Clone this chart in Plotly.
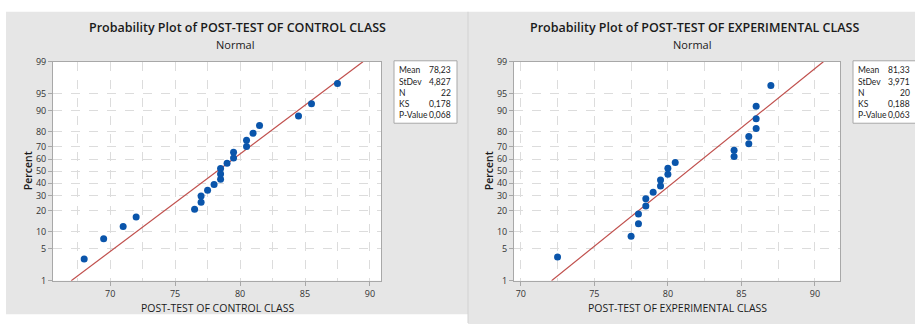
import plotly.graph_objects as go
from statistics import NormalDist

nd = NormalDist()

# ---------------- data ----------------
control_scores = [68, 69.5, 71, 72, 76.5, 77, 77, 77.5, 78, 78.5, 78.5, 78.5,
                  79, 79.5, 79.5, 80.5, 80.5, 81, 81.5, 84.5, 85.5, 87.5]
experimental_scores = [72.5, 77.5, 78, 78, 78.5, 78.5, 79, 79.5, 79.5, 80, 80,
                       80.5, 84.5, 84.5, 85.5, 85.5, 86, 86, 86, 87]

control_mean, control_sd = 78.23, 4.827
experimental_mean, experimental_sd = 81.33, 3.971

stat_labels = ["Mean", "StDev", "N", "KS", "P-Value"]
control_stat_values = ["78,23", "4,827", "22", "0,178", "0,068"]
experimental_stat_values = ["81,33", "3,971", "20", "0,188", "0,063"]

percent_ticks = [1, 5, 10, 20, 30, 40, 50, 60, 70, 80, 90, 95, 99]
x_ticks = [70, 75, 80, 85, 90]

titles = ["Probability Plot of POST-TEST OF CONTROL CLASS",
          "Probability Plot of POST-TEST OF EXPERIMENTAL CLASS"]
x_titles = ["POST-TEST OF CONTROL CLASS", "POST-TEST OF EXPERIMENTAL CLASS"]

# ---------------- layout helpers ----------------
W, H = 915, 329
def px(x):
    return x / W
def py(y):
    return 1 - y / H

FONT = "Open Sans"
BOX_FONT = "Lato"
PT_COLOR = "#0a55ab"
LINE_COLOR = "#c0504d"
GRID = "#dcdcdc"
PANEL = "#e6e6e6"

z_lo, z_hi = nd.inv_cdf(0.01), nd.inv_cdf(0.99)
tick_z = [nd.inv_cdf(p / 100) for p in percent_ticks]

def positions(vals):
    s = sorted(vals)
    n = len(s)
    return s, [nd.inv_cdf((i + 1 - 0.3) / (n + 0.4)) for i in range(n)]

fig = go.Figure()

panels = [
    dict(scores=control_scores, mean=control_mean, sd=control_sd,
         vals=control_stat_values, dom=(53, 381), xr=(65.6, 90.85),
         box=(394, 457), panel=(6, 468, 5, 320), center=237),
    dict(scores=experimental_scores, mean=experimental_mean, sd=experimental_sd,
         vals=experimental_stat_values, dom=(514, 840), xr=(69.54, 91.7),
         box=(853, 918), panel=(468, 916, 5, 330), center=694),
]

shapes = []
annotations = []
for k, p in enumerate(panels):
    xa = "x" if k == 0 else "x2"
    ya = "y" if k == 0 else "y2"
    s, z = positions(p["scores"])
    fig.add_trace(go.Scatter(
        x=[p["mean"] + z_lo * p["sd"], p["mean"] + z_hi * p["sd"]], y=[z_lo, z_hi],
        mode="lines", line=dict(color=LINE_COLOR, width=1.2),
        xaxis=xa, yaxis=ya, showlegend=False, hoverinfo="skip"))
    fig.add_trace(go.Scatter(
        x=s, y=z, mode="markers",
        marker=dict(color=PT_COLOR, size=7),
        xaxis=xa, yaxis=ya, showlegend=False))

    x0, x1, y0, y1 = p["panel"]
    shapes.append(dict(type="rect", xref="paper", yref="paper", layer="below",
                       x0=px(x0), x1=px(x1), y0=py(y1), y1=py(y0),
                       fillcolor=PANEL, line=dict(width=0)))
    d0, d1 = p["dom"]
    shapes.append(dict(type="rect", xref="paper", yref="paper", layer="below",
                       x0=px(d0), x1=px(d1), y0=py(285), y1=py(57),
                       fillcolor="white", line=dict(width=0)))
    b0, b1 = p["box"]
    shapes.append(dict(type="rect", xref="paper", yref="paper", layer="above",
                       x0=px(b0), x1=px(b1), y0=py(121), y1=py(56),
                       fillcolor="white", line=dict(color="#a8a8a8", width=1)))
    for i, (lab, val) in enumerate(zip(stat_labels, p["vals"])):
        yy = 66 + i * 11.7
        annotations.append(dict(xref="paper", yref="paper", x=px(b0 + 3), y=py(yy),
                                text=lab, showarrow=False, xanchor="left", yanchor="middle",
                                font=dict(family=BOX_FONT, size=8.5, color="#222")))
        annotations.append(dict(xref="paper", yref="paper", x=px(b0 + 59), y=py(yy),
                                text=val, showarrow=False, xanchor="right", yanchor="middle",
                                font=dict(family=BOX_FONT, size=8.5, color="#222")))
    annotations.append(dict(xref="paper", yref="paper", x=px(p["center"]), y=py(21.5),
                            text=titles[k], showarrow=False, xanchor="center", yanchor="middle",
                            font=dict(family=FONT, size=12.5, color="#1a1a1a", weight=600)))
    annotations.append(dict(xref="paper", yref="paper", x=px(p["center"] - 2), y=py(39),
                            text="Normal", showarrow=False, xanchor="center", yanchor="middle",
                            font=dict(family=FONT, size=11, color="#1a1a1a")))
    annotations.append(dict(xref="paper", yref="paper", x=px((d0 + d1) / 2), y=py(313),
                            text=x_titles[k], showarrow=False, xanchor="center", yanchor="middle",
                            font=dict(family=FONT, size=10.5, color="#1a1a1a")))
    annotations.append(dict(xref="paper", yref="paper", x=px(d0 - 25), y=py(171),
                            text="Percent", showarrow=False, xanchor="center", yanchor="middle",
                            textangle=-90,
                            font=dict(family=FONT, size=10.5, color="#1a1a1a", weight=600)))

shapes.append(dict(type="line", xref="paper", yref="paper", layer="below",
                   x0=px(468), x1=px(468), y0=py(329), y1=py(5),
                   line=dict(color="#d2d2d2", width=1)))

axis_common = dict(showline=True, mirror=True, linecolor="#a8a8a8", linewidth=1,
                   ticks="outside", ticklen=4, tickcolor="#a8a8a8",
                   tickfont=dict(family=FONT, size=9, color="#333"),
                   zeroline=False, showgrid=True, gridcolor=GRID, griddash="dash",
                   gridwidth=1)

for k, p in enumerate(panels):
    d0, d1 = p["dom"]
    xkey = "xaxis" if k == 0 else "xaxis2"
    ykey = "yaxis" if k == 0 else "yaxis2"
    fig.layout[xkey] = dict(axis_common, domain=[px(d0), px(d1)], range=list(p["xr"]),
                            tickvals=x_ticks, ticktext=[str(v) for v in x_ticks],
                            anchor="y" if k == 0 else "y2", showgrid=False,
                            minor=dict(dtick=2.5, tick0=70, showgrid=True, gridcolor=GRID,
                                       griddash="dash", ticks=""))
    fig.layout[ykey] = dict(axis_common, domain=[py(285), py(57)], range=[z_lo, z_hi],
                            tickvals=tick_z, ticktext=[str(v) for v in percent_ticks],
                            anchor="x" if k == 0 else "x2")

fig.update_layout(width=W, height=H, margin=dict(l=0, r=0, t=0, b=0),
                  paper_bgcolor="white", plot_bgcolor="white",
                  shapes=shapes, annotations=annotations, showlegend=False)

fig.write_html("out.html", config={"displayModeBar": False},
               post_script="document.body.style.margin='0';document.body.style.overflow='hidden';")
